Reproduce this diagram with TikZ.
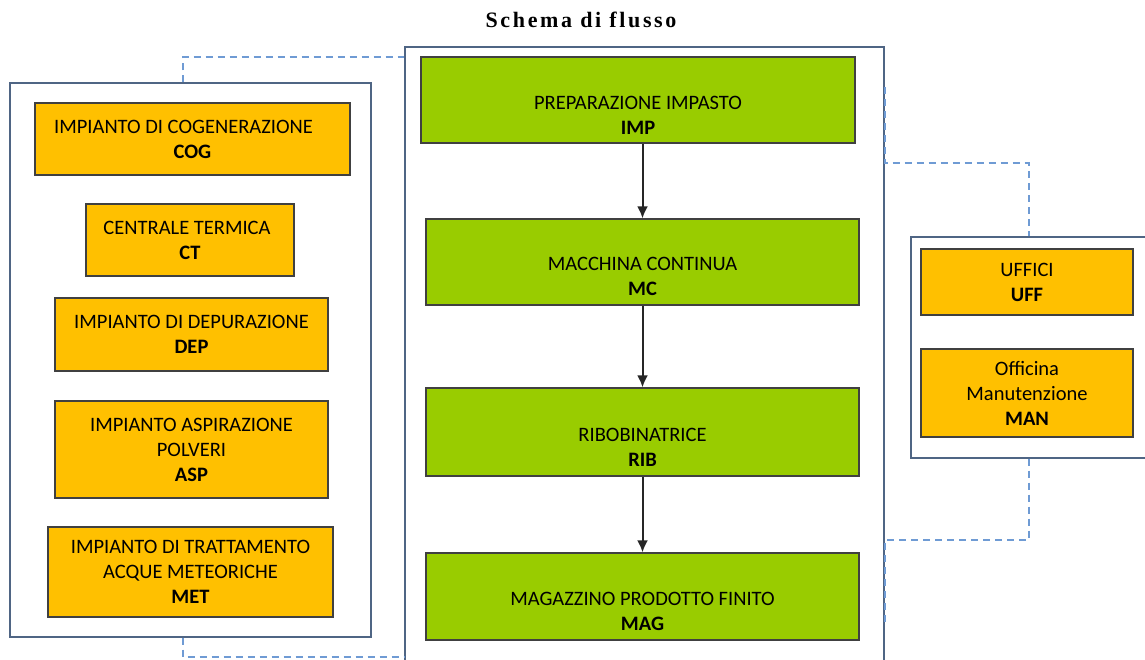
\documentclass[tikz,border=0pt]{standalone}
\usepackage{fontspec}
\setmainfont{Carlito}
\newfontfamily\titlefont[LetterSpace=12]{Liberation Serif}
\usetikzlibrary{arrows.meta}
\definecolor{arancio}{HTML}{FFC000}
\definecolor{verde}{HTML}{99CC00}
\definecolor{cornice}{HTML}{4F6584}
\definecolor{tratteggio}{HTML}{6F9BD4}
\tikzstyle{gruppo} = [draw=cornice, line width=1.3pt, rectangle, inner sep=0pt]
\tikzstyle{servizio} = [draw=black!75, fill=arancio, rectangle, line width=1.3pt,
    inner sep=0pt, align=center, font=\fontsize{20.5}{25}\selectfont]
\tikzstyle{fase} = [draw=black!75, fill=verde, rectangle, line width=1.3pt,
    inner sep=0pt, align=center, font=\fontsize{20.5}{25}\selectfont]
\tikzstyle{link} = [draw=tratteggio, line width=2pt, dash pattern=on 7pt off 5pt]
\tikzstyle{flusso} = [->, draw=black!85, line width=2pt]
\newcommand{\spaziosopra}{\rule{0pt}{43pt}}

\begin{document}
\begin{tikzpicture}[x=1pt, y=-1pt, >={Latex[length=12pt,width=11pt]}]
    \useasboundingbox (0,0) rectangle (1145,659);

    \node (titolo) at (581,20) {\titlefont\bfseries\fontsize{22}{26}\selectfont Schema di flusso};

    \node [gruppo, minimum width=361pt, minimum height=554pt] (ausiliari) at (190.5,360) {};
    \node [gruppo, minimum width=479pt, minimum height=633pt] (produzione) at (644.5,363.5) {};
    \node [gruppo, minimum width=235pt, minimum height=221pt] (uffici) at (1028.5,347.5) {};

    \node [servizio, minimum width=315pt, minimum height=72pt] (cog) at (192.5,139)
        {IMPIANTO DI COGENERAZIONE\hspace{18pt}\mbox{}\\\textbf{COG}};
    \node [servizio, minimum width=208pt, minimum height=72pt] (ct) at (190,240)
        {CENTRALE TERMICA\hspace{6pt}\mbox{}\\\textbf{CT}};
    \node [servizio, minimum width=273pt, minimum height=73pt] (dep) at (191.5,334.5)
        {IMPIANTO DI DEPURAZIONE\\\textbf{DEP}};
    \node [servizio, minimum width=273pt, minimum height=97pt] (asp) at (191.5,449.5)
        {IMPIANTO ASPIRAZIONE\\POLVERI\\\textbf{ASP}};
    \node [servizio, minimum width=285pt, minimum height=90pt] (met) at (190.5,572)
        {IMPIANTO DI TRATTAMENTO\\ACQUE METEORICHE\\\textbf{MET}};

    \node [fase, minimum width=434pt, minimum height=86pt] (imp) at (638,100)
        {\spaziosopra PREPARAZIONE IMPASTO\\\textbf{IMP}};
    \node [fase, minimum width=433pt, minimum height=86pt] (mc) at (642.5,262)
        {\spaziosopra MACCHINA CONTINUA\\\textbf{MC}};
    \node [fase, minimum width=433pt, minimum height=88pt] (rib) at (642.5,432)
        {\spaziosopra RIBOBINATRICE\\\textbf{RIB}};
    \node [fase, minimum width=433pt, minimum height=87pt] (mag) at (642.5,596.5)
        {\spaziosopra MAGAZZINO PRODOTTO FINITO\\\textbf{MAG}};

    \node [servizio, minimum width=212pt, minimum height=66pt] (uff) at (1027,282)
        {UFFICI\\\textbf{UFF}};
    \node [servizio, minimum width=212pt, minimum height=88pt] (man) at (1027,393)
        {Officina\\Manutenzione\\\textbf{MAN}};

    \draw [flusso] (imp.south -| mc.north) -- (mc.north);
    \draw [flusso] (mc.south) -- (rib.north);
    \draw [flusso] (rib.south) -- (mag.north);

    \draw [link] ([xshift=-7.5pt]ausiliari.north) |- (produzione.west |- 0,57);
    \draw [link] ([xshift=-7.5pt]ausiliari.south) |- (produzione.west |- 0,657);
    \draw [link] (produzione.east |- 0,87) -- (produzione.east |- 0,163) -| (uffici.north);
    \draw [link] (uffici.south) |- (produzione.east |- 0,540) -- (produzione.east |- 0,622);
\end{tikzpicture}
\end{document}
